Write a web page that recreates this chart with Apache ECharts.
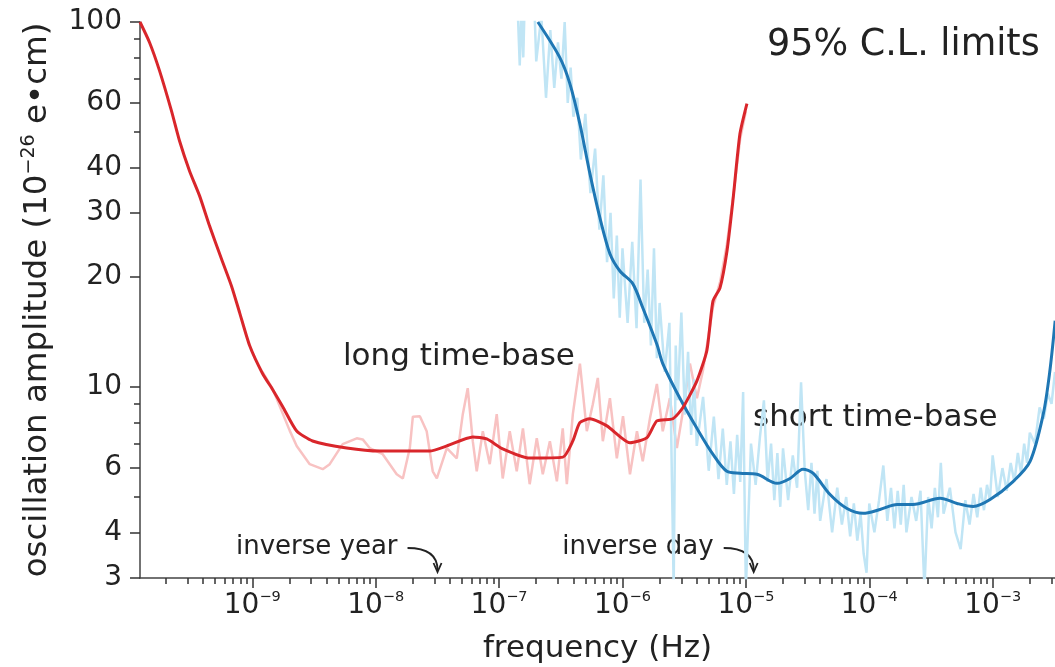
<!DOCTYPE html>
<html>
<head>
<meta charset="utf-8">
<title>oscillation amplitude limits</title>
<script src="https://cdn.jsdelivr.net/npm/echarts@6.0.0/dist/echarts.min.js"></script>
<style>
    html, body { margin: 0; padding: 0; background: #fff; }
    #main { width: 1055px; height: 667px; }
</style>
</head>
<body>
<div id="main"></div>
<script>
var FONT = '"DejaVu Sans", "Liberation Sans", sans-serif';

// long time-base, smoothed limit
var longFreq = [1.23e-10, 1.47e-10, 1.77e-10, 2.21e-10, 2.57e-10, 3.10e-10, 3.74e-10, 4.51e-10, 5.64e-10, 6.79e-10,
    7.89e-10, 9.51e-10, 1.21e-9, 1.46e-9, 1.76e-9, 2.29e-9, 3.08e-9, 5.82e-9, 1.08e-8, 2.74e-8,
    3.77e-8, 6.12e-8, 7.94e-8, 1.07e-7, 1.77e-7, 3.29e-7, 3.96e-7, 4.51e-7, 5.45e-7, 7.48e-7,
    1.15e-6, 1.58e-6, 1.90e-6, 2.56e-6, 3.09e-6, 4.01e-6, 4.83e-6, 5.41e-6, 6.17e-6, 7.03e-6,
    7.85e-6, 8.95e-6, 1.02e-5];
var longAmp = [100, 87.9, 73.6, 57.2, 47.3, 39.1, 33.4, 27.6, 22.4, 18.9,
    16.0, 13.0, 10.9, 9.85, 8.85, 7.58, 7.12, 6.81, 6.68, 6.68,
    6.90, 7.30, 7.21, 6.77, 6.39, 6.43, 7.12, 7.99, 8.19, 7.83,
    7.04, 7.27, 8.08, 8.19, 8.79, 10.4, 12.6, 17.2, 18.7, 23.6,
    32.4, 49.4, 59.8];

// long time-base, raw
var longRawFreq = [1.21e-9, 1.46e-9, 2.01e-9, 2.29e-9, 2.92e-9, 3.72e-9, 4.24e-9, 5.40e-9, 7.02e-9, 7.85e-9,
    8.94e-9, 1.14e-8, 1.48e-8, 1.66e-8, 1.89e-8, 2.00e-8, 2.28e-8, 2.59e-8, 2.90e-8, 3.13e-8,
    3.77e-8, 4.54e-8, 5.08e-8, 5.57e-8, 6.12e-8, 6.59e-8, 7.38e-8, 8.40e-8, 9.57e-8, 1.07e-7,
    1.22e-7, 1.39e-7, 1.56e-7, 1.77e-7, 2.02e-7, 2.26e-7, 2.58e-7, 2.94e-7, 3.28e-7, 3.54e-7,
    3.96e-7, 4.52e-7, 5.14e-7, 5.75e-7, 6.31e-7, 6.93e-7, 7.91e-7, 9.00e-7, 1.01e-6, 1.15e-6,
    1.31e-6, 1.46e-6, 1.67e-6, 1.90e-6, 2.12e-6, 2.42e-6, 2.76e-6, 3.09e-6, 3.52e-6, 4.01e-6,
    4.49e-6, 5.4e-6, 6.2e-6, 7.0e-6, 8.0e-6, 9.0e-6, 1.0e-5];
var longRawAmp = [11.0, 9.9, 7.6, 6.9, 6.15, 5.96, 6.15, 6.98, 7.24, 7.19,
    6.81, 6.55, 5.77, 5.62, 6.81, 8.3, 8.32, 7.57, 5.88, 5.62,
    6.81, 6.38, 8.43, 9.93, 7.11, 5.88, 7.57, 6.15, 8.43, 5.62,
    7.57, 5.88, 7.71, 5.42, 7.24, 5.77, 7.11, 5.52, 7.71, 5.42,
    8.43, 11.6, 7.57, 8.98, 10.6, 7.11, 9.32, 6.38, 8.32, 5.77,
    7.57, 6.26, 8.22, 10.2, 7.57, 9.32, 6.81, 8.59, 11.6, 9.32,
    11.1, 16.5, 19.5, 24.5, 34.5, 48, 57];

// short time-base, smoothed limit
var shortFreq = [2.06e-7, 3.10e-7, 3.74e-7, 4.51e-7, 5.44e-7, 6.56e-7, 7.91e-7, 9.53e-7, 1.21e-6, 1.46e-6,
    1.90e-6, 2.12e-6, 2.92e-6, 4.01e-6, 5.40e-6, 7.01e-6, 8.95e-6, 1.23e-5, 1.79e-5, 2.28e-5,
    2.90e-5, 3.50e-5, 4.81e-5, 6.60e-5, 8.91e-5, 1.22e-4, 1.68e-4, 2.26e-4, 3.75e-4, 5.15e-4,
    6.94e-4, 9.53e-4, 1.47e-3, 2.01e-3, 2.57e-3, 2.91e-3, 3.21e-3];
var shortAmp = [100, 80.0, 67.9, 52.7, 38.5, 29.1, 23.2, 20.8, 19.2, 16.5,
    13.1, 11.6, 9.32, 7.71, 6.55, 5.88, 5.81, 5.77, 5.45, 5.62,
    5.96, 5.81, 5.08, 4.65, 4.51, 4.62, 4.77, 4.77, 4.96, 4.80,
    4.71, 4.92, 5.52, 6.26, 8.43, 11.1, 15.2];

// short time-base, raw
var shortRawFreq = [1.40e-7, 1.47e-7, 1.52e-7, 1.57e-7, 1.62e-7, 1.75e-7, 1.90e-7, 2.0e-7, 2.2e-7, 2.4e-7,
    2.6e-7, 2.8e-7, 3.0e-7, 3.2e-7, 3.4e-7, 3.6e-7, 3.8e-7, 4.0e-7, 4.3e-7, 4.6e-7,
    5.0e-7, 5.5e-7, 6.0e-7, 6.5e-7, 7.0e-7, 7.5e-7, 8.0e-7, 8.5e-7, 9.0e-7, 9.5e-7,
    1.0e-6, 1.1e-6, 1.2e-6, 1.3e-6, 1.4e-6, 1.5e-6, 1.6e-6, 1.7e-6, 1.8e-6, 1.9e-6,
    2.0e-6, 2.2e-6, 2.4e-6, 2.6e-6, 2.7e-6, 2.8e-6, 3.0e-6, 3.2e-6, 3.4e-6, 3.6e-6,
    3.8e-6, 4.0e-6, 4.5e-6, 5.0e-6, 5.5e-6, 6.0e-6, 6.5e-6, 7.0e-6, 7.5e-6, 8.0e-6,
    8.5e-6, 9.0e-6, 9.5e-6, 1.0e-5, 1.1e-5, 1.2e-5, 1.3e-5, 1.4e-5, 1.5e-5, 1.6e-5,
    1.7e-5, 1.8e-5, 1.9e-5, 2.0e-5, 2.2e-5, 2.4e-5, 2.6e-5, 2.8e-5, 3.0e-5, 3.2e-5,
    3.4e-5, 3.6e-5, 3.8e-5, 4.0e-5, 4.5e-5, 5.0e-5, 5.5e-5, 6.0e-5, 6.5e-5, 7.0e-5,
    7.5e-5, 8.0e-5, 8.5e-5, 9.0e-5, 9.5e-5, 1.0e-4, 1.1e-4, 1.2e-4, 1.3e-4, 1.4e-4,
    1.5e-4, 1.6e-4, 1.7e-4, 1.8e-4, 1.9e-4, 2.0e-4, 2.2e-4, 2.4e-4, 2.6e-4, 2.8e-4,
    3.0e-4, 3.2e-4, 3.4e-4, 3.6e-4, 3.8e-4, 4.0e-4, 4.5e-4, 5.0e-4, 5.5e-4, 6.0e-4,
    6.5e-4, 7.0e-4, 7.5e-4, 8.0e-4, 8.5e-4, 9.0e-4, 9.5e-4, 1.0e-3, 1.1e-3, 1.2e-3,
    1.3e-3, 1.4e-3, 1.5e-3, 1.6e-3, 1.7e-3, 1.8e-3, 1.9e-3, 2.0e-3, 2.2e-3, 2.4e-3,
    2.6e-3, 2.8e-3, 3.0e-3, 3.2e-3];
var shortRawAmp = [120, 76, 110, 80, 120, 140, 130, 78, 104, 62,
    95, 66, 88, 70, 100, 60, 75, 55, 62, 42,
    56, 34, 45, 27, 38, 22, 30, 17.5, 26, 15.5,
    24, 15, 25, 14.5, 37, 15, 21, 13, 24, 12,
    17, 11, 15, 2.8, 13, 9.2, 16, 8.4, 12.5, 7.4,
    10.5, 6.9, 9.4, 5.9, 8.3, 5.6, 7.7, 5.4, 7.1, 5.1,
    7.4, 5.5, 9.7, 2.8, 7.0, 5.4, 7.3, 9.2, 5.5, 7.0,
    4.9, 6.6, 4.7, 6.8, 4.9, 6.5, 5.3, 10.3, 5.9, 4.6,
    6.2, 4.5, 5.9, 4.3, 5.6, 4.0, 5.3, 4.2, 5.0, 3.9,
    4.8, 3.8, 4.5, 3.5, 3.1, 4.8, 4.0, 4.9, 6.1, 4.3,
    5.3, 4.1, 5.2, 4.2, 5.4, 4.0, 5.0, 4.3, 5.2, 2.8,
    5.0, 4.1, 5.3, 4.4, 6.2, 4.5, 5.3, 4.0, 3.6, 4.9,
    4.2, 5.1, 4.4, 5.3, 4.6, 5.4, 4.9, 6.5, 5.0, 6.0,
    5.2, 6.2, 5.5, 6.6, 5.8, 7.0, 6.2, 7.5, 7.0, 8.8,
    8.2, 9.6, 9.0, 11];

// axes
var xMin = 1.23e-10, xMax = 3.2e-3;
var yMin = 3, yMax = 100;
var xMajorTicks = [1e-9, 1e-8, 1e-7, 1e-6, 1e-5, 1e-4, 1e-3];
var yMajorTicks = [3, 4, 6, 10, 20, 30, 40, 60, 100];
var yMinorTicks = [5, 7, 8, 9, 50, 70, 80, 90];
var xMinorTicks = [];
[1e-10, 1e-9, 1e-8, 1e-7, 1e-6, 1e-5, 1e-4, 1e-3].forEach(function (d) {
    [2, 3, 4, 5, 6, 7, 8, 9].forEach(function (m) { xMinorTicks.push(m * d); });
});

// markers on the frequency axis
var markerFreq = [3.17e-8, 1.157e-5];
var markerText = ['inverse year', 'inverse day'];

function pairs(xs, ys) {
    return xs.map(function (x, i) { return [x, ys[i]]; });
}

var chart = echarts.init(document.getElementById('main'));

var tickStyle = {color: '#333', width: 1.5};
var axisLineStyle = {color: '#444', width: 1.5};

var option = {
    animation: false,
    backgroundColor: '#fff',
    textStyle: {fontFamily: FONT},
    grid: {left: 140, right: 0, top: 22, bottom: 89, containLabel: false, outerBoundsMode: 'none'},
    xAxis: [
        {
            type: 'log', logBase: 10, min: xMin, max: xMax, position: 'bottom',
            name: 'frequency (Hz)', nameLocation: 'middle', nameGap: 55,
            nameTextStyle: {fontSize: 31, color: '#222', fontFamily: FONT},
            axisLine: {show: true, lineStyle: axisLineStyle},
            axisTick: {show: true, customValues: xMajorTicks, length: 10, lineStyle: tickStyle},
            axisLabel: {
                customValues: xMajorTicks, fontSize: 28, color: '#222', margin: 12, fontFamily: FONT,
                formatter: function (v) {
                    var e = Math.round(Math.log10(v));
                    return '10{sup|−' + (-e) + '}';
                },
                rich: {sup: {fontSize: 14.5, fontFamily: FONT, color: '#222', padding: [0, 0, 16, 0]}}
            },
            splitLine: {show: false}
        },
        {
            type: 'log', logBase: 10, min: xMin, max: xMax, position: 'bottom', offset: 0,
            axisLine: {show: false},
            axisTick: {show: true, customValues: xMinorTicks, length: 6, lineStyle: tickStyle},
            axisLabel: {show: false},
            splitLine: {show: false}
        }
    ],
    yAxis: [
        {
            type: 'log', logBase: 10, min: yMin, max: yMax, position: 'left',
            name: 'oscillation amplitude (10{sup|−26} e•cm)', nameLocation: 'middle', nameGap: 84, nameRotate: 90,
            nameTextStyle: {
                fontSize: 32.5, color: '#222', fontFamily: FONT,
                rich: {sup: {fontSize: 19, fontFamily: FONT, color: '#222', padding: [0, 0, 17, 0]}}
            },
            axisLine: {show: true, lineStyle: axisLineStyle},
            axisTick: {show: true, customValues: yMajorTicks, length: 10, lineStyle: tickStyle},
            axisLabel: {
                customValues: yMajorTicks, fontSize: 28, color: '#222', margin: 18, fontFamily: FONT,
                formatter: function (v) { return String(Math.round(v)); }
            },
            splitLine: {show: false}
        },
        {
            type: 'log', logBase: 10, min: yMin, max: yMax, position: 'left', offset: 0,
            axisLine: {show: false},
            axisTick: {show: true, customValues: yMinorTicks, length: 6, lineStyle: tickStyle},
            axisLabel: {show: false},
            splitLine: {show: false}
        }
    ],
    series: [
        {
            name: 'long raw', type: 'line', data: pairs(longRawFreq, longRawAmp),
            showSymbol: false, silent: true, z: 1,
            lineStyle: {color: '#f8c2c2', width: 2.5}
        },
        {
            name: 'short raw', type: 'line', data: pairs(shortRawFreq, shortRawAmp),
            showSymbol: false, silent: true, z: 1,
            lineStyle: {color: '#c0e5f5', width: 2.5}
        },
        {
            name: 'short time-base', type: 'line', data: pairs(shortFreq, shortAmp),
            showSymbol: false, silent: true, z: 3, smooth: 0.3,
            lineStyle: {color: '#1f77b4', width: 3}
        },
        {
            name: 'long time-base', type: 'line', data: pairs(longFreq, longAmp),
            showSymbol: false, silent: true, z: 4, smooth: 0.2,
            lineStyle: {color: '#d9262b', width: 3}
        }
    ]
};

chart.setOption(option);

// text labels and the two arrows to the axis
var graphics = [
    {type: 'text', x: 767, y: 46, style: {text: '95% C.L. limits', fontSize: 36.5, fontFamily: FONT, fill: '#222', align: 'left', verticalAlign: 'middle'}},
    {type: 'text', x: 343, y: 357, style: {text: 'long time-base', fontSize: 31, fontFamily: FONT, fill: '#222', align: 'left', verticalAlign: 'middle'}},
    {type: 'text', x: 753, y: 418, style: {text: 'short time-base', fontSize: 31, fontFamily: FONT, fill: '#222', align: 'left', verticalAlign: 'middle'}}
];
markerFreq.forEach(function (f, i) {
    var p = chart.convertToPixel({gridIndex: 0}, [f, yMin]);
    var tx = p[0], ty = p[1] - 6;
    graphics.push({type: 'text', x: tx - 40, y: ty - 25, style: {text: markerText[i], fontSize: 26, fontFamily: FONT, fill: '#222', align: 'right', verticalAlign: 'middle'}});
    graphics.push({type: 'bezierCurve', shape: {x1: tx - 30, y1: ty - 24, x2: tx, y2: ty - 2, cpx1: tx, cpy1: ty - 24},
        style: {stroke: '#222', lineWidth: 1.8, fill: null}});
    graphics.push({type: 'polyline', shape: {points: [[tx - 4, ty - 9], [tx, ty], [tx + 4, ty - 9]]},
        style: {stroke: '#222', lineWidth: 1.8, fill: null}});
});
chart.setOption({graphic: graphics});
</script>
</body>
</html>
